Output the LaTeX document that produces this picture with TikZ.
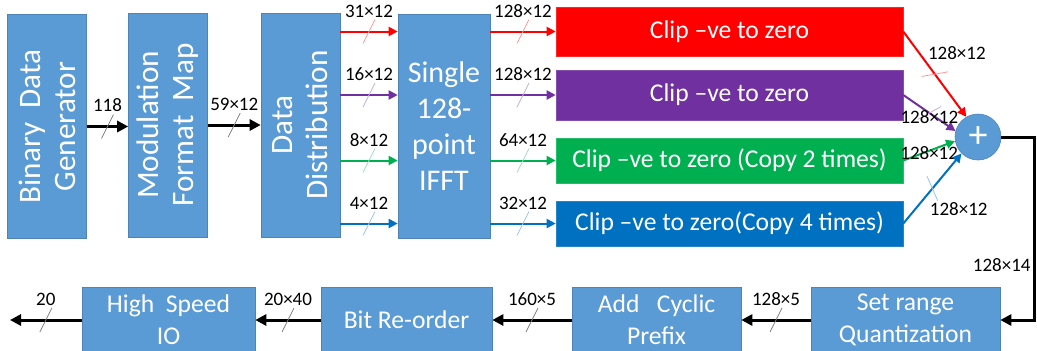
\documentclass[tikz,border=0pt]{standalone}
\usepackage{fontspec}
\setmainfont{Carlito}
\usetikzlibrary{arrows.meta,decorations.markings}

\definecolor{boxblue}{HTML}{5B9BD5}
\definecolor{clipred}{HTML}{FF0000}
\definecolor{clippurple}{HTML}{7030A0}
\definecolor{clipgreen}{HTML}{00B050}
\definecolor{clipblue}{HTML}{0070C0}

\begin{document}
\begin{tikzpicture}[
    x=0.5pt, y=-0.5pt,
    block/.style={draw=boxblue!85!black, line width=0.3pt, fill=boxblue, text=white,
                  align=center, inner sep=0pt, font=\fontsize{15}{18}\selectfont},
    vblock/.style={block, rotate=90, minimum width=112pt, minimum height=39.5pt,
                   font=\fontsize{15.6}{17.5}\selectfont},
    lowblock/.style={block, minimum height=33pt, font=\fontsize{12.8}{16}\selectfont},
    clipbox/.style={draw=#1!85!white, line width=0.3pt, fill=#1, text=white, inner sep=0pt,
                    minimum width=173.5pt, font=\fontsize{12.8}{15}\selectfont},
    val/.style={font=\fontsize{9.5}{11}\selectfont, inner sep=1pt, text=black},
    valup/.style={val, above=5.5pt},
    blk/.style={line width=1.5pt, -{Triangle[length=5.5pt,width=5.5pt]}},
    col/.style={line width=1pt, draw=#1, -{Triangle[length=4.5pt,width=4.5pt]}},
    bus/.style={postaction={decorate, decoration={markings,
                mark=at position 0.5 with {\draw[-, line width=0.4pt, draw=#1] (-6,12) -- (6,-12);}}}}
  ]
  \useasboundingbox (0,0) rectangle (1037,350);
  \clip (0,0) rectangle (1037,350);

  % Bloques de la fila superior (girados: north = izquierda, south = derecha)
  \node[vblock] (gen) at (47,126.5) {Binary\ \ Data\\Generator};
  \node[vblock] (mod) at (168,125) {Modulation\\Format\ \ Map};
  \node[vblock] (dist) at (300.5,125) {Data\\Distribution};
  \node[block, minimum width=46pt, minimum height=112pt] (ifft) at (444,126) {Single\\128-\\point\\IFFT};

  % Ramas de recorte
  \node[clipbox=clipred, minimum height=24.5pt] (clipA) at (729.5,31.5) {Clip –ve to zero};
  \node[clipbox=clippurple, minimum height=25pt] (clipB) at (729.5,95) {Clip –ve to zero};
  \node[clipbox=clipgreen, minimum height=22.5pt] (clipC) at (729.5,160.5) {Clip –ve to zero (Copy 2 times)};
  \node[clipbox=clipblue, minimum height=22.5pt] (clipD) at (729.5,223.5) {Clip –ve to zero(Copy 4 times)};

  \node[circle, fill=boxblue, draw=boxblue!85!black, line width=0.3pt, text=white, inner sep=0pt,
        minimum size=23pt, font=\fontsize{19}{19}\selectfont] (sum) at (978,137) {+};

  % Bloques de la fila inferior
  \node[lowblock, minimum width=94.5pt] (quant) at (905.5,320) {Set range\\Quantization};
  \node[lowblock, minimum width=84.5pt] (prefix) at (656.5,320) {Add\ \ \ Cyclic\\Prefix};
  \node[lowblock, minimum width=85.5pt] (reorder) at (406.5,320) {Bit Re-order};
  \node[lowblock, minimum width=86.5pt] (hsio) at (168.5,320) {High\ \ Speed\\IO};
  \coordinate (out) at (10,320);
  \coordinate (turn) at (1034,137);

  % Flechas negras
  \draw[blk, bus=gray] (gen.south) -- node[valup] {118} (gen.south -| mod.north);
  \draw[blk, bus=gray] (mod.south) -- node[valup] {59×12} (mod.south -| dist.north);

  % Entradas y salidas de la IFFT
  \draw[col=clipred, bus=clipred!40] (dist.south |- clipA) -- node[valup] {31×12} (ifft.west |- clipA);
  \draw[col=clippurple, bus=clippurple!40] (dist.south |- clipB) -- node[valup] {16×12} (ifft.west |- clipB);
  \draw[col=clipgreen, bus=clipgreen!40] (dist.south |- clipC) -- node[valup] {8×12} (ifft.west |- clipC);
  \draw[col=clipblue, bus=clipblue!40] (dist.south |- clipD) -- node[valup] {4×12} (ifft.west |- clipD);

  \draw[col=clipred, bus=clipred!40] (ifft.east |- clipA) -- node[valup] {128×12} (clipA.west);
  \draw[col=clippurple, bus=clippurple!40] (ifft.east |- clipB) -- node[valup] {128×12} (clipB.west);
  \draw[col=clipgreen, bus=clipgreen!40] (ifft.east |- clipC) -- node[valup] {64×12} (clipC.west);
  \draw[col=clipblue, bus=clipblue!40] (ifft.east |- clipD) -- node[valup] {32×12} (clipD.west);

  % Hacia el sumador
  \draw[col=clipred, bus=clipred!40] (clipA.east) -- node[val, pos=0.25, anchor=west, xshift=3pt] {128×12} (sum.120);
  \draw[col=clippurple, bus=clippurple!40] (clipB.east) -- node[val, pos=0.5, yshift=-2pt] {128×12} (sum.165);
  \draw[col=clipgreen] (clipC.east) -- node[val, pos=0.5, yshift=-1pt] {128×12} (sum.190);
  \draw[col=clipblue, bus=clipblue!40] (clipD.east) -- node[val, pos=0.2, anchor=west, xshift=6pt] {128×12} (sum.225);

  % Retorno y fila inferior
  \draw[blk] (sum.east) -- (turn) |- node[val, pos=0.35, anchor=east] {128×14} (quant.east);
  \draw[blk, bus=gray] (quant.west) -- node[valup] {128×5} (prefix.east);
  \draw[blk, bus=gray] (prefix.west) -- node[valup] {160×5} (reorder.east);
  \draw[blk, bus=gray] (reorder.west) -- node[valup] {20×40} (hsio.east);
  \draw[blk, bus=gray] (hsio.west) -- node[valup] {20} (out);
\end{tikzpicture}
\end{document}
